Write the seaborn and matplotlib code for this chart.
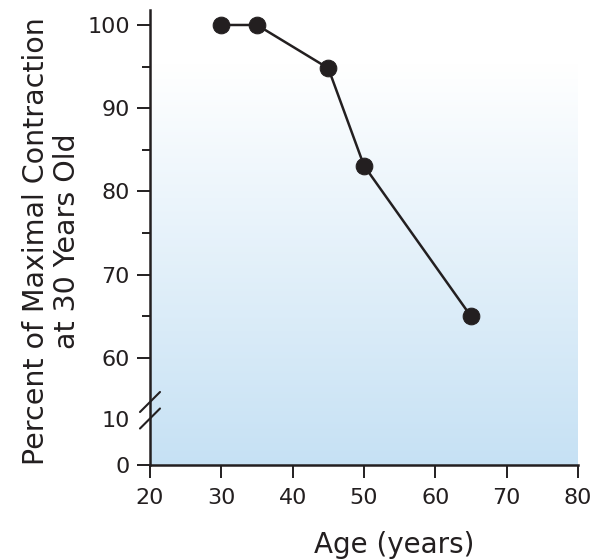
import numpy as np
import pandas as pd
import matplotlib
matplotlib.use("Agg")
import matplotlib.pyplot as plt
import seaborn as sns
from matplotlib.colors import LinearSegmentedColormap

# data
age = [30, 35, 45, 50, 65]
percent = [100, 100, 94.8, 83.1, 65]
y_major = [0, 10, 60, 70, 80, 90, 100]
y_minor = [65, 75, 85, 95]
x_ticks = [20, 30, 40, 50, 60, 70, 80]

df = pd.DataFrame({"age": age, "percent": percent})

sns.set_style("ticks")
plt.rcParams["font.family"] = ["DejaVu Sans"]

ink = "#231f20"

# broken y axis: squeeze the 10..60 range
knots_data = [0, 10, 60, 101.8]
knots_px = [0, 46, 107, 455]


def fwd(y):
    return np.interp(y, knots_data, knots_px)


def inv(t):
    return np.interp(t, knots_px, knots_data)


fig = plt.figure(figsize=(5.97, 5.6), dpi=100)
ax = fig.add_axes([150 / 597, 95 / 560, 428 / 597, 455 / 560])
ax.set_yscale("function", functions=(fwd, inv))

# background gradient, white at top to light blue at bottom
cmap = LinearSegmentedColormap.from_list("bg", [(0, "#c6e1f4"), (0.88, "#ffffff"), (1, "#ffffff")])
grad = np.linspace(1, 0, 256).reshape(-1, 1)
ax.imshow(grad, extent=[0, 1, 0, 1], transform=ax.transAxes, aspect="auto",
          cmap=cmap, vmin=0, vmax=1, zorder=0)

sns.lineplot(data=df, x="age", y="percent", ax=ax, color=ink, linewidth=1.8,
             marker="o", markersize=12, markeredgecolor=ink, zorder=3)

ax.set_xlim(20, 80)
ax.set_ylim(0, 101.8)
ax.set_xticks(x_ticks)
ax.set_yticks(y_major)
ax.set_yticks(y_minor, minor=True)
ax.yaxis.set_minor_formatter(plt.NullFormatter())
ax.yaxis.get_major_ticks()[1].tick1line.set_visible(False)

ax.tick_params(axis="both", which="major", length=9.5, width=1.4, color=ink,
               labelsize=16, labelcolor=ink, direction="out")
ax.tick_params(axis="x", which="major", pad=7)
ax.tick_params(axis="y", which="major", pad=5)
ax.tick_params(axis="y", which="minor", length=6, width=1.4, color=ink, direction="out")

for side in ["top", "right"]:
    ax.spines[side].set_visible(False)
for side in ["left", "bottom"]:
    ax.spines[side].set_linewidth(1.8)
    ax.spines[side].set_color(ink)

# break marks on the y axis
for yc in [63 / 455, 46.5 / 455]:
    ax.plot([-0.0234, 0.0234], [yc - 0.022, yc + 0.022], transform=ax.transAxes,
            color=ink, linewidth=1.5, clip_on=False, zorder=5)

ax.set_xlabel("Age (years)", fontsize=20, color=ink, va="center")
ax.xaxis.set_label_coords(0.57, -0.176)
ax.set_ylabel("Percent of Maximal Contraction\nat 30 Years Old", fontsize=20.5,
              color=ink, linespacing=1.15, va="center")
ax.yaxis.set_label_coords(-0.23, 0.491)

fig.savefig("out.png", dpi=100)
